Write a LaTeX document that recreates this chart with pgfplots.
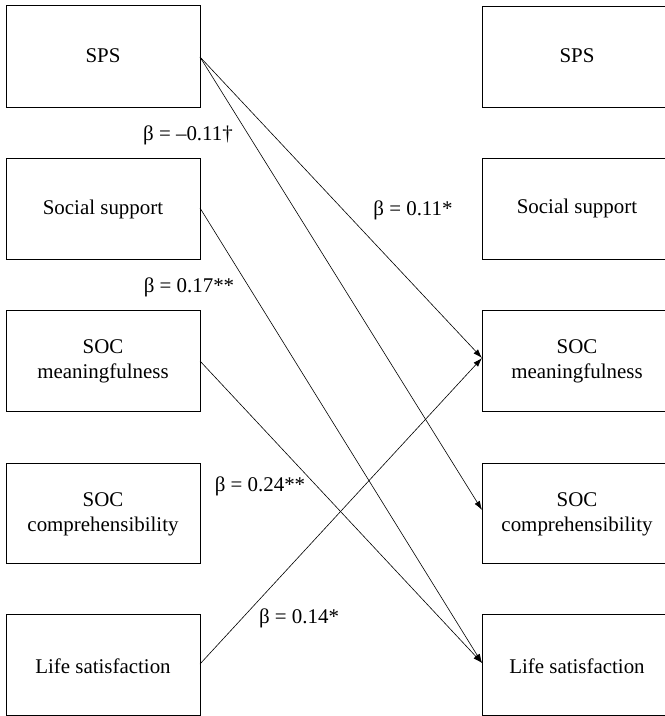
\documentclass[border=0pt]{standalone}
\usepackage{pgfplots}
\pgfplotsset{compat=1.18}
\usetikzlibrary{arrows.meta}
\usepackage{fontspec}
\setmainfont{Liberation Serif}
\tikzset{lab/.style={font=\fontsize{21}{25}\selectfont,align=center,inner sep=0pt}}
\begin{document}
\begin{tikzpicture}
\begin{axis}[width=665bp,height=716bp,scale only axis,
  xmin=0,xmax=665,ymin=0,ymax=716,y dir=reverse,hide axis,clip=true]
% left boxes
\addplot[black,line width=0.9bp] coordinates {(6,5) (200,5) (200,107) (6,107) (6,5)};
\addplot[black,line width=0.9bp] coordinates {(6,158) (200,158) (200,259) (6,259) (6,158)};
\addplot[black,line width=0.9bp] coordinates {(6,310) (200,310) (200,411) (6,411) (6,310)};
\addplot[black,line width=0.9bp] coordinates {(6,463) (200,463) (200,563) (6,563) (6,463)};
\addplot[black,line width=0.9bp] coordinates {(6,614) (200,614) (200,715) (6,715) (6,614)};
% right boxes
\addplot[black,line width=0.9bp] coordinates {(678,6) (482,6) (482,107) (678,107)};
\addplot[black,line width=0.9bp] coordinates {(678,158) (482,158) (482,259) (678,259)};
\addplot[black,line width=0.9bp] coordinates {(678,310) (482,310) (482,411) (678,411)};
\addplot[black,line width=0.9bp] coordinates {(678,463) (482,463) (482,563) (678,563)};
\addplot[black,line width=0.9bp] coordinates {(678,614) (482,614) (482,715) (678,715)};
% arrows
\addplot[black,line width=0.6bp,-{Latex[length=9bp,width=6bp]}] coordinates {(200,57) (482,358)};
\addplot[black,line width=0.6bp,-{Latex[length=9bp,width=6bp]}] coordinates {(200,57) (482,510)};
\addplot[black,line width=0.6bp,-{Latex[length=9bp,width=6bp]}] coordinates {(200,208) (482,663)};
\addplot[black,line width=0.6bp,-{Latex[length=9bp,width=6bp]}] coordinates {(200,361) (482,663)};
\addplot[black,line width=0.6bp,-{Latex[length=9bp,width=6bp]}] coordinates {(200,664) (482,358)};
% box texts
\node[lab] at (axis cs:103,56) {SPS};
\node[lab] at (axis cs:103,209) {Social support};
\node[lab] at (axis cs:103,361) {SOC\\meaningfulness};
\node[lab] at (axis cs:103,514) {SOC\\comprehensibility};
\node[lab] at (axis cs:103,666) {Life satisfaction};
\node[lab] at (axis cs:577,56) {SPS};
\node[lab] at (axis cs:577,208) {Social support};
\node[lab] at (axis cs:577,361) {SOC\\meaningfulness};
\node[lab] at (axis cs:577,514) {SOC\\comprehensibility};
\node[lab] at (axis cs:577,666) {Life satisfaction};
% coefficients
\node[lab] at (axis cs:188,135) {β = –0.11†};
\node[lab] at (axis cs:413,210) {β = 0.11*};
\node[lab] at (axis cs:189,287) {β = 0.17**};
\node[lab] at (axis cs:260,486) {β = 0.24**};
\node[lab] at (axis cs:299,618) {β = 0.14*};
\end{axis}
\pgfresetboundingbox
\useasboundingbox (current axis.south west) rectangle (current axis.north east);
\end{tikzpicture}
\end{document}
